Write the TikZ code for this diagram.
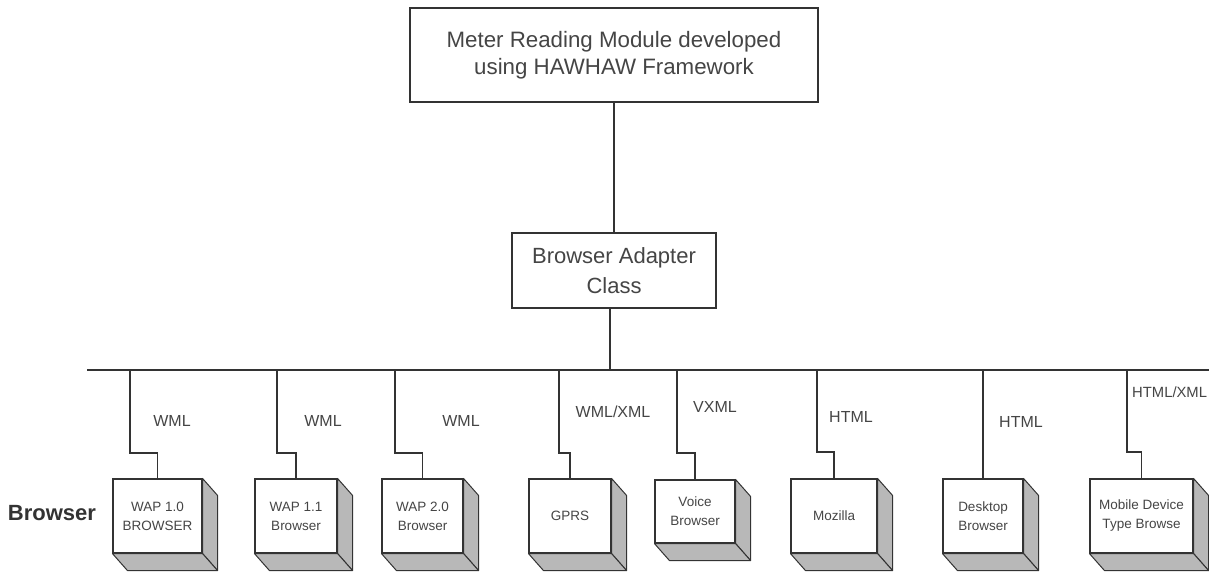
\documentclass[tikz,border=0pt]{standalone}
\usepackage{fontspec}
\setmainfont{Liberation Sans}
\definecolor{linecol}{gray}{0.2}
\definecolor{txtcol}{gray}{0.27}
\definecolor{sidecol}{gray}{0.72}
\begin{document}
\begin{tikzpicture}[x=1pt,y=-1pt,
  conn/.style={draw=linecol, line width=1.1pt},
  mainbox/.style={draw=linecol, line width=1.1pt, fill=white, align=center, text=txtcol, inner sep=0pt},
  brbox/.style={draw=linecol, line width=1.1pt, fill=white, align=center, text=txtcol, inner sep=0pt,
     minimum height=74pt, font=\fontsize{13.5}{19}\selectfont},
  lbl/.style={text=txtcol, inner sep=0pt, font=\fontsize{16}{19}\selectfont},
  side/.style={fill=sidecol, draw=linecol, line width=1pt, line join=round}]
\useasboundingbox (0,0) rectangle (1209,575);
\clip (0,0) rectangle (1209,575);
\fill[white] (0,0) rectangle (1209,575);

% main boxes
\node[mainbox, minimum width=408pt, minimum height=94pt, font=\fontsize{22.3}{27}\selectfont] (top) at (614,55)
  {Meter Reading Module developed\\using HAWHAW Framework};
\node[mainbox, minimum width=204pt, minimum height=75pt, font=\fontsize{22}{30}\selectfont] (adapter) at (614,270.5)
  {Browser Adapter\\Class};

% bus
\coordinate (busL) at (87,370);
\coordinate (busR) at (1212,370);
\coordinate (adOut) at (610,308);
\draw[conn] (busL) -- (busR);
\draw[conn] (top.south) -- (adapter.north);
\draw[conn] (adOut) -- (adOut |- busL);

% browser boxes
\node[brbox, minimum width=89pt] (b1) at (157.5,516) {WAP 1.0\\BROWSER};
\node[brbox, minimum width=82pt] (b2) at (296,516) {WAP 1.1\\Browser};
\node[brbox, minimum width=81pt] (b3) at (422.5,516) {WAP 2.0\\Browser};
\node[brbox, minimum width=82pt] (b4) at (570,516) {GPRS};
\node[brbox, minimum width=80pt, minimum height=63pt] (b5) at (695,511.5) {Voice\\Browser};
\node[brbox, minimum width=86pt] (b6) at (834,516) {Mozilla};
\node[brbox, minimum width=80pt] (b7) at (983,516) {Desktop\\Browser};
\node[brbox, minimum width=103pt] (b8) at (1141.5,516) {Mobile Device\\Type Browse};

\foreach \n in {b1,b2,b3,b4,b5,b6,b7,b8}{
  \draw[side] (\n.north east) -- ([shift={(15,17)}]\n.north east) -- ([shift={(15,17)}]\n.south east) -- (\n.south east) -- cycle;
  \draw[side] (\n.south west) -- (\n.south east) -- ([shift={(15,17)}]\n.south east) -- ([shift={(15,17)}]\n.south west) -- cycle;
}

% branch points on the bus
\coordinate (t1) at (130,370);
\coordinate (t2) at (277,370);
\coordinate (t3) at (395,370);
\coordinate (t4) at (559,370);
\coordinate (t5) at (677,370);
\coordinate (t6) at (817,370);
\coordinate (t7) at (983,370);
\coordinate (t8) at (1127,370);

\draw[conn] (t1) -- ++(0,83) -| (b1.north);
\draw[conn] (t2) -- ++(0,83) -| (b2.north);
\draw[conn] (t3) -- ++(0,83) -| (b3.north);
\draw[conn] (t4) -- ++(0,83) -| (b4.north);
\draw[conn] (t5) -- ++(0,83) -| (b5.north);
\draw[conn] (t6) -- ++(0,82) -| (b6.north);
\draw[conn] (t7) -- (b7.north);
\draw[conn] (t8) -- ++(0,82) -| (b8.north);

% labels
\node[lbl] (l1) at (172,421) {WML};
\node[lbl] (l2) at (323,421) {WML};
\node[lbl] (l3) at (461,421) {WML};
\node[lbl] (l4) at (613,412) {WML/XML};
\node[lbl] (l5) at (715,407) {VXML};
\node[lbl] (l6) at (851,417) {HTML};
\node[lbl] (l7) at (1021,422) {HTML};
\node[lbl, anchor=west, font=\fontsize{14.8}{18}\selectfont] (l8) at (1132,392) {HTML/XML};

\node[text=black!80, inner sep=0pt, font=\fontsize{22}{26}\selectfont\bfseries] (brw) at (52,513) {Browser};
\end{tikzpicture}
\end{document}
